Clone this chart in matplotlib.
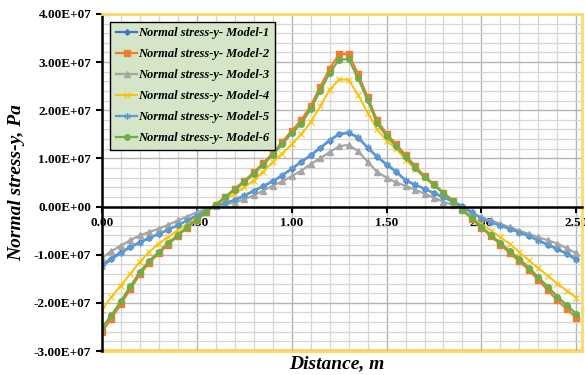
import matplotlib.pyplot as plt
import numpy as np
from matplotlib.ticker import MultipleLocator, FuncFormatter

plt.rcParams['font.family'] = ['Liberation Serif', 'DejaVu Serif']

# distance along the section, m
dist = np.arange(51) * 0.05

# normal stress-y values, in units of 1e7 Pa
model1 = [-1.22, -1.08, -0.95, -0.84, -0.74, -0.65, -0.57, -0.48, -0.39, -0.29,
          -0.19, -0.09, 0.02, 0.07, 0.13, 0.22, 0.32, 0.42, 0.52, 0.64,
          0.78, 0.92, 1.06, 1.21, 1.37, 1.50, 1.53, 1.43, 1.22, 1.03,
          0.87, 0.72, 0.54, 0.45, 0.37, 0.28, 0.19, 0.10, 0.01, -0.12,
          -0.25, -0.32, -0.39, -0.46, -0.53, -0.61, -0.70, -0.79, -0.88, -0.98, -1.09]
model2 = [-2.61, -2.33, -2.03, -1.72, -1.41, -1.17, -0.97, -0.79, -0.61, -0.44,
          -0.28, -0.12, 0.04, 0.20, 0.37, 0.53, 0.71, 0.90, 1.11, 1.34,
          1.57, 1.79, 2.09, 2.48, 2.86, 3.16, 3.17, 2.75, 2.28, 1.79,
          1.51, 1.30, 1.07, 0.84, 0.63, 0.46, 0.29, 0.12, -0.08, -0.25,
          -0.44, -0.62, -0.79, -0.97, -1.14, -1.32, -1.53, -1.74, -1.95, -2.13, -2.31]
model3 = [-1.07, -0.93, -0.81, -0.70, -0.60, -0.53, -0.46, -0.38, -0.29, -0.21,
          -0.12, -0.05, 0.02, 0.05, 0.08, 0.15, 0.23, 0.33, 0.43, 0.52,
          0.63, 0.74, 0.88, 1.00, 1.13, 1.25, 1.28, 1.15, 0.93, 0.72,
          0.60, 0.50, 0.43, 0.35, 0.27, 0.18, 0.10, 0.03, -0.05, -0.14,
          -0.22, -0.29, -0.36, -0.43, -0.50, -0.57, -0.64, -0.70, -0.77, -0.87, -0.97]
model4 = [-2.15, -1.88, -1.64, -1.40, -1.15, -0.94, -0.77, -0.63, -0.49, -0.36,
          -0.23, -0.10, 0.03, 0.15, 0.27, 0.40, 0.54, 0.72, 0.92, 1.10,
          1.29, 1.50, 1.75, 2.08, 2.42, 2.64, 2.63, 2.32, 1.95, 1.60,
          1.37, 1.20, 0.97, 0.78, 0.60, 0.44, 0.27, 0.10, -0.07, -0.22,
          -0.36, -0.50, -0.64, -0.78, -0.95, -1.12, -1.28, -1.44, -1.60, -1.75, -1.89]
model5 = [-1.25, -1.10, -0.97, -0.85, -0.75, -0.66, -0.57, -0.48, -0.39, -0.29,
          -0.19, -0.09, 0.02, 0.07, 0.14, 0.23, 0.33, 0.43, 0.53, 0.65,
          0.79, 0.93, 1.07, 1.22, 1.38, 1.51, 1.54, 1.44, 1.23, 1.04,
          0.88, 0.73, 0.55, 0.46, 0.37, 0.28, 0.19, 0.10, 0.01, -0.12,
          -0.25, -0.33, -0.40, -0.47, -0.54, -0.62, -0.71, -0.80, -0.89, -0.99, -1.11]
model6 = [-2.52, -2.26, -1.97, -1.66, -1.36, -1.13, -0.94, -0.76, -0.59, -0.42,
          -0.27, -0.11, 0.04, 0.19, 0.35, 0.50, 0.68, 0.87, 1.07, 1.29,
          1.52, 1.72, 2.02, 2.40, 2.77, 3.05, 3.06, 2.66, 2.21, 1.73,
          1.46, 1.25, 1.03, 0.81, 0.61, 0.44, 0.28, 0.11, -0.08, -0.24,
          -0.42, -0.59, -0.76, -0.93, -1.09, -1.27, -1.47, -1.67, -1.87, -2.05, -2.23]

labels = ['Normal stress-y- Model-1', 'Normal stress-y- Model-2',
          'Normal stress-y- Model-3', 'Normal stress-y- Model-4',
          'Normal stress-y- Model-5', 'Normal stress-y- Model-6']

fig = plt.figure(figsize=(5.85, 3.75), dpi=100)
ax = fig.add_axes([0.174, 0.064, 0.821, 0.899])

ax.plot(dist, np.array(model1) * 1e7, color='#4472C4', marker='D', ms=2.8, lw=1.6, label=labels[0])
ax.plot(dist, np.array(model2) * 1e7, color='#ED7D31', marker='s', ms=4.0, lw=1.6, label=labels[1])
ax.plot(dist, np.array(model3) * 1e7, color='#A5A5A5', marker='^', ms=4.2, lw=1.6, label=labels[2])
ax.plot(dist, np.array(model4) * 1e7, color='#FFC000', marker='x', ms=4, mew=0.8, lw=1.4, label=labels[3])
ax.plot(dist, np.array(model5) * 1e7, color='#5B9BD5', marker=(6, 2, 0), ms=4.5, mew=0.9, lw=1.6, label=labels[4])
ax.plot(dist, np.array(model6) * 1e7, color='#70AD47', marker='o', ms=4.0, lw=1.6, label=labels[5])

ax.set_xlim(0, 2.53)
ax.set_ylim(-3e7, 4e7)
ax.xaxis.set_major_locator(MultipleLocator(0.5))
ax.xaxis.set_minor_locator(MultipleLocator(0.1))
ax.yaxis.set_major_locator(MultipleLocator(1e7))
ax.yaxis.set_minor_locator(MultipleLocator(2e6))
ax.xaxis.set_major_formatter(FuncFormatter(lambda v, p: '%.2f' % v))
ax.yaxis.set_major_formatter(FuncFormatter(lambda v, p: '%.2E' % v))

ax.grid(True, which='major', color='#b4b4b4', lw=1.0)
ax.grid(True, which='minor', color='#d6d6d6', lw=0.9)
ax.set_axisbelow(True)

ax.spines['bottom'].set_position(('data', 0))
ax.spines['bottom'].set_linewidth(1.8)
ax.spines['left'].set_linewidth(1.8)
ax.spines['top'].set_color('#FFD966')
ax.spines['right'].set_color('#FFD966')
ax.spines['top'].set_linewidth(2)
ax.spines['right'].set_linewidth(2)
ax.axhline(-3e7, color='#FFD966', lw=3, clip_on=False, zorder=0)

ax.tick_params(which='minor', length=0)
ax.tick_params(which='major', direction='out', length=4, width=1.5)
for t in ax.get_xticklabels() + ax.get_yticklabels():
    t.set_fontweight('bold')
    t.set_fontsize(9.5)
ax.tick_params(axis='x', pad=3.5)

ax.set_ylabel('Normal stress-y, Pa', fontsize=14, fontweight='bold', style='italic', labelpad=6)
ax.set_xlabel('Distance, m', fontsize=14, fontweight='bold', style='italic')
ax.xaxis.set_label_coords(0.49, -0.013)

leg = ax.legend(loc='upper left', bbox_to_anchor=(0.018, 0.977), fancybox=False,
                framealpha=1, facecolor='#d4e6c7', edgecolor='black',
                prop={'weight': 'bold', 'style': 'italic', 'size': 9},
                labelspacing=0.72, handlelength=1.7, handletextpad=0.1, borderpad=0.45,
                borderaxespad=0)
leg.get_frame().set_linewidth(1.0)

fig.savefig('out.png', dpi=100)
